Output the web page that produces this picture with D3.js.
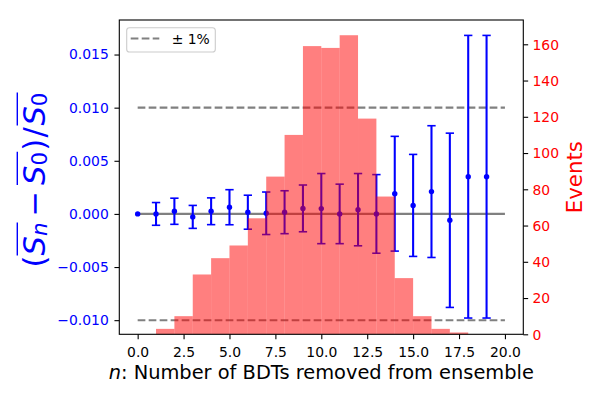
<!DOCTYPE html>
<html>
<head>
<meta charset="utf-8">
<script src="https://cdn.jsdelivr.net/npm/d3@7"></script>
<style>
html,body{margin:0;padding:0;background:#fff;}
svg{display:block;font-family:"DejaVu Sans",sans-serif;}
</style>
</head>
<body>
<svg id="chart" width="600" height="400"></svg>
<script>
// ---- data ----
const nValues = [0,1,2,3,4,5,6,7,8,9,10,11,12,13,14,15,16,17,18,19];
const meanDiff = [0, 0.0000, 0.00025, -0.00028, 0.00025, 0.00063, 0.00016, 0.00006, 0.00016, 0.00052,
                  0.0005, 0.0, 0.0004, 0.0, 0.0019, 0.0008, 0.0021, -0.0006, 0.0035, 0.0035];
const errDiff = [0, 0.00107, 0.00123, 0.00108, 0.00126, 0.00165, 0.0016, 0.002, 0.00202, 0.0022,
                 0.0033, 0.0028, 0.0034, 0.0037, 0.0054, 0.0048, 0.0062, 0.0082, 0.0133, 0.0133];
const histBinStart = [1,2,3,4,5,6,7,8,9,10,11,12,13,14,15,16,17];
const histCounts = [3,10,33,42,49,64,87,110,159,158,165,119,76,31,10,3,1];
const xTicks = [0,2.5,5,7.5,10,12.5,15,17.5,20];
const yLeftTicks = [-0.010,-0.005,0,0.005,0.010,0.015];
const yRightTicks = [0,20,40,60,80,100,120,140,160];
const bandLevels = [-0.01, 0.01];
const legendLabel = "± 1%";

// ---- layout ----
const L = 119.3, R = 523.3, T = 20, B = 334.3;
const svg = d3.select("#chart");
const x = d3.scaleLinear().domain([-1, 21]).range([L, R]);
const yL = d3.scaleLinear().domain([-0.01133, 0.01825]).range([B, T]);
const yR = d3.scaleLinear().domain([0, 173.4]).range([B, T]);

const BLUE = "#0000ff", RED = "#ff0000", GRAY = "#808080";

// reference lines
const gLines = svg.append("g");
gLines.selectAll("line.band").data(bandLevels).enter().append("line")
  .attr("x1", x(0)).attr("x2", x(20))
  .attr("y1", d => yL(d)).attr("y2", d => yL(d))
  .attr("stroke", GRAY).attr("stroke-width", 2.08)
  .attr("stroke-dasharray", "7.7,3.3");
gLines.append("line")
  .attr("x1", x(0)).attr("x2", x(20))
  .attr("y1", yL(0)).attr("y2", yL(0))
  .attr("stroke", GRAY).attr("stroke-width", 2.08);

// error bars
const pts = nValues.map((n, i) => ({n, m: meanDiff[i], e: errDiff[i]}));
const gErr = svg.append("g");
const withErr = pts.filter(d => d.e > 0);
gErr.selectAll("line.v").data(withErr).enter().append("line")
  .attr("x1", d => x(d.n)).attr("x2", d => x(d.n))
  .attr("y1", d => yL(d.m - d.e)).attr("y2", d => yL(d.m + d.e))
  .attr("stroke", BLUE).attr("stroke-width", 2.08);
["lo","hi"].forEach(k => {
  gErr.selectAll("line.cap" + k).data(withErr).enter().append("line")
    .attr("x1", d => x(d.n) - 4.17).attr("x2", d => x(d.n) + 4.17)
    .attr("y1", d => yL(k === "lo" ? d.m - d.e : d.m + d.e))
    .attr("y2", d => yL(k === "lo" ? d.m - d.e : d.m + d.e))
    .attr("stroke", BLUE).attr("stroke-width", 1.6);
});
gErr.selectAll("circle").data(pts).enter().append("circle")
  .attr("cx", d => x(d.n)).attr("cy", d => yL(d.m)).attr("r", 2.7)
  .attr("fill", BLUE);

// histogram (twin axis, on top)
const bins = histBinStart.map((s, i) => ({s, c: histCounts[i]}));
svg.append("g").selectAll("rect").data(bins).enter().append("rect")
  .attr("x", d => x(d.s)).attr("width", d => x(d.s + 1) - x(d.s))
  .attr("y", d => yR(d.c)).attr("height", d => yR(0) - yR(d.c))
  .attr("fill", RED).attr("fill-opacity", 0.5);

// frame
svg.append("rect").attr("x", L).attr("y", T).attr("width", R - L).attr("height", B - T)
  .attr("fill", "none").attr("stroke", "#000").attr("stroke-width", 1.1);

// axes
const FS = 13.9;
const xAxis = svg.append("g").attr("transform", `translate(0,${B})`)
  .call(d3.axisBottom(x).tickValues(xTicks).tickFormat(d3.format(".1f")).tickSizeOuter(0).tickSize(4.86).tickPadding(4.86));
const yAxisL = svg.append("g").attr("transform", `translate(${L},0)`)
  .call(d3.axisLeft(yL).tickValues(yLeftTicks).tickFormat(d => d3.format(".3f")(d).replace("-", "\u2212")).tickSizeOuter(0).tickSize(4.86).tickPadding(5.7));
const yAxisR = svg.append("g").attr("transform", `translate(${R},0)`)
  .call(d3.axisRight(yR).tickValues(yRightTicks).tickFormat(d3.format("d")).tickSizeOuter(0).tickSize(4.86).tickPadding(4.3));
[xAxis, yAxisL, yAxisR].forEach(g => {
  g.select(".domain").remove();
  g.selectAll(".tick line").attr("stroke", "#000").attr("stroke-width", 1.1);
  g.selectAll(".tick text").attr("font-family", "DejaVu Sans").attr("font-size", FS);
});
xAxis.selectAll(".tick text").attr("fill", "#000").attr("dy", "0.91em");
yAxisL.selectAll(".tick text").attr("fill", BLUE).attr("dy", "0.32em");
yAxisR.selectAll(".tick text").attr("fill", RED).attr("dy", "0.34em");

// x label
const xl = svg.append("text").attr("x", (L + R) / 2).attr("y", 378.5)
  .attr("text-anchor", "middle").attr("font-size", 19.4).attr("fill", "#000");
xl.append("tspan").attr("font-style", "italic").text("n");
xl.append("tspan").text(": Number of BDTs removed from ensemble");

// right label
svg.append("text").attr("transform", `translate(581.5,${(T + B) / 2}) rotate(-90)`)
  .attr("text-anchor", "middle").attr("font-size", 21.3).attr("fill", RED).text("Events");

// left label (math)
const LF = 30.6;
const gl = svg.append("g").attr("transform", `translate(45.3,180) rotate(-90)`);
const pieces = [
  {t: "(", it: false},
  {t: "S", it: true, ov: 1},
  {t: "n", it: true, sub: true, ov: 1},
  {t: "\u2212", it: false, pad: 6},
  {t: "S", it: true, ov: 2},
  {t: "0", it: false, sub: true, ov: 2},
  {t: ")", it: false, pre: 1},
  {t: "/", it: false, pad: 1.5},
  {t: "S", it: true, ov: 3},
  {t: "0", it: false, sub: true, ov: 3}
];
let cx = 0;
const spans = {};
pieces.forEach(p => {
  cx += (p.pad || 0) + (p.pre || 0);
  const fs = p.sub ? LF * 0.7 : LF;
  const te = gl.append("text").attr("x", cx).attr("y", p.sub ? 1.7 : 0)
    .attr("font-size", fs).attr("fill", BLUE)
    .attr("font-style", p.it ? "italic" : "normal").text(p.t);
  const w = te.node().getComputedTextLength();
  if (p.ov) {
    if (!spans[p.ov]) spans[p.ov] = [cx, cx + w];
    else spans[p.ov][1] = cx + w;
  }
  cx += w + (p.pad || 0);
});
const total = cx;
gl.selectAll("text").attr("x", function () { return +d3.select(this).attr("x") - total / 2; });
Object.values(spans).forEach(s => {
  gl.append("line").attr("x1", s[0] - total / 2).attr("x2", s[1] - total / 2)
    .attr("y1", -28).attr("y2", -28).attr("stroke", BLUE).attr("stroke-width", 1.4);
});

// legend
const lg = svg.append("g");
lg.append("rect").attr("x", 126.7).attr("y", 27.7).attr("width", 88.6).attr("height", 24.3)
  .attr("rx", 2.8).attr("fill", "#fff").attr("fill-opacity", 0.8)
  .attr("stroke", "#cccccc").attr("stroke-width", 1.1);
lg.append("line").attr("x1", 130.7).attr("x2", 159.3).attr("y1", 38.5).attr("y2", 38.5)
  .attr("stroke", GRAY).attr("stroke-width", 2.08).attr("stroke-dasharray", "7.7,3.3");
lg.append("text").attr("x", 171.7).attr("y", 43.5).attr("font-size", FS).attr("fill", "#000").text(legendLabel);
</script>
</body>
</html>
